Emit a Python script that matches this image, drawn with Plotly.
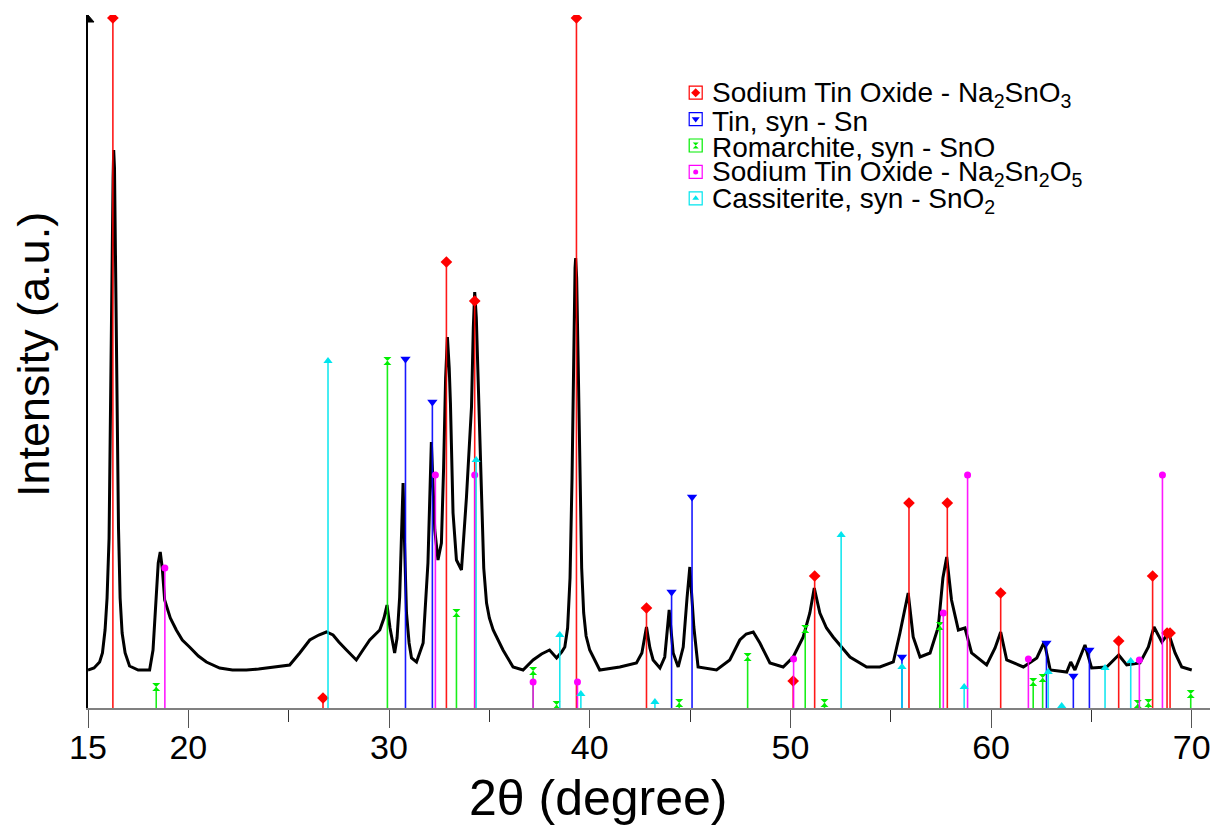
import plotly.graph_objects as go

# measured XRD pattern
two_theta = [15.0, 15.3, 15.58, 15.72, 15.85, 15.95, 16.05, 16.13, 16.2, 16.25, 16.28, 16.32, 16.38,
             16.45, 16.52, 16.6, 16.7, 16.85, 17.07,
             17.5, 18.07, 18.24, 18.4, 18.5, 18.6, 18.7, 18.82, 19.1, 19.4, 19.7, 20.06, 20.5, 20.9,
             21.56, 22.2, 22.89, 23.5, 23.89, 24.5, 25.05, 25.55, 26.05, 26.5, 26.88, 27.21, 27.5,
             27.88, 28.37, 28.7, 29.04, 29.54, 29.75, 29.9, 30.05, 30.28, 30.4, 30.53, 30.62, 30.7,
             30.78, 30.87, 31.0, 31.12, 31.37, 31.7, 31.94, 32.05, 32.11, 32.2, 32.28, 32.44, 32.61,
             32.72, 32.82, 32.91, 33.0, 33.06, 33.19, 33.36, 33.61, 33.86, 34.0, 34.11, 34.2, 34.27,
             34.35, 34.45, 34.52, 34.62, 34.72, 34.86, 35.0, 35.19, 35.68, 36.18, 36.68, 37.18, 37.6,
             38.0, 38.35, 38.6, 38.76, 38.9, 39.02, 39.12, 39.2, 39.27, 39.3, 39.35, 39.43, 39.52,
             39.6, 39.7, 39.82, 40.0, 40.5, 41.5, 42.33, 42.6, 42.83, 43.0, 43.16, 43.5, 43.74,
             43.96, 44.16, 44.41, 44.66, 44.85, 44.99, 45.19, 45.4, 46.32, 46.98, 47.48, 47.8, 48.15,
             48.48, 48.98, 49.64, 50.14, 50.64, 50.97, 51.19, 51.47, 51.8, 52.13, 52.97, 53.8, 54.46,
             55.13, 55.46, 55.87, 56.12, 56.46, 56.96, 57.37, 57.6, 57.79, 58.03, 58.37, 58.7, 59.03,
             59.78, 60.2, 60.48, 60.78, 61.61, 62.28, 62.65, 62.95, 63.77, 63.97, 64.18, 64.68, 65.01,
             65.76, 66.36, 66.76, 67.42, 67.84, 68.12, 68.51, 68.84, 69.17, 69.5, 70.0]
intensity = [38, 40, 46, 55, 78, 110, 170, 290, 440, 530, 558, 540, 440,
             300, 180, 110, 75, 55, 42,
             38, 38, 58, 108, 145, 156, 140, 108, 90, 78, 68, 61, 52, 46,
             40, 38, 38, 39, 40, 41, 43, 55, 68, 73, 76, 73, 66,
             58, 48, 58, 68, 78, 90, 103, 80, 55, 70, 111, 180, 225,
             160, 95, 65, 50, 46, 65, 145, 230, 266, 220, 178, 148, 165,
             240, 330, 371, 340, 305, 195, 148, 138, 211, 260, 301, 380, 416,
             390, 320, 278, 190, 140, 105, 90, 78, 58, 41, 38, 48, 54,
             58, 50, 56, 61, 80, 130, 230, 360, 440, 450, 430, 340, 220,
             140, 95, 72, 58, 38, 41, 45, 55, 81, 60, 48, 40, 51,
             98, 55, 41, 61, 110, 141, 81, 41, 38, 48, 68, 74, 76,
             65, 45, 41, 51, 71, 95, 120, 95, 80, 71, 51, 41, 41,
             46, 75, 115, 71, 51, 55, 81, 130, 151, 108, 78, 80, 55,
             43, 60, 76, 48, 41, 50, 66, 38, 36, 46, 38, 63, 40,
             41, 53, 43, 45, 61, 81, 66, 75, 55, 41, 38]

# reference patterns (peak position, relative intensity)
na2sno3_pos = [16.24, 26.71, 32.86, 34.27, 39.34, 42.83, 50.14, 51.21, 55.91, 57.82, 60.48, 66.36, 68.05, 68.77, 68.92]
na2sno3_int = [690, 10, 446, 407, 690, 100, 27, 132, 205, 205, 115, 67, 132, 75, 75]

sn_pos = [30.82, 32.16, 44.08, 45.1, 55.56, 62.76, 64.1, 64.9]
sn_int = [349, 306, 116, 211, 51, 65, 32, 58]

sno_pos = [18.4, 29.92, 33.36, 37.18, 38.35, 44.46, 47.87, 50.74, 51.7, 57.45, 62.1, 62.57, 67.31, 67.84, 69.95]
sno_int = [21, 347, 95, 37, 3, 5, 51, 79, 5, 82, 26, 30, 4, 5, 14]

na2sn2o5_pos = [18.83, 32.31, 34.27, 37.18, 39.39, 50.16, 57.62, 58.83, 61.86, 67.39, 68.54]
na2sn2o5_int = [140, 233, 233, 26, 26, 49, 95, 233, 49, 48, 233]

sno2_pos = [26.96, 34.34, 38.51, 39.56, 43.25, 52.53, 55.56, 58.66, 62.85, 63.52, 65.68, 66.96]
sno2_int = [347, 248, 73, 14, 6, 173, 41, 21, 36, 2, 40, 47]

phases = [
    ("Sodium Tin Oxide - Na<sub>2</sub>SnO<sub>3</sub>", na2sno3_pos, na2sno3_int, "#ff0000", "diamond", 9),
    ("Tin, syn - Sn", sn_pos, sn_int, "#0000ff", "triangle-down", 9),
    ("Romarchite, syn - SnO", sno_pos, sno_int, "#00ee00", "hourglass", 8),
    ("Sodium Tin Oxide - Na<sub>2</sub>Sn<sub>2</sub>O<sub>5</sub>", na2sn2o5_pos, na2sn2o5_int, "#ff00ff", "circle", 7),
    ("Cassiterite, syn - SnO<sub>2</sub>", sno2_pos, sno2_int, "#00e5ee", "triangle-up", 8),
]

FONT = "Liberation Sans, Arial, sans-serif"
# the page body adds an 8px offset; the figure is sized so the plot lands where the reference has it
OFF = 8
W, H = 1218 - OFF, 825 - OFF
X0, X1, Y0, Y1 = 88, 1210, 15, 708          # plot area in window pixels
L, R, T, B = X0 - OFF, 1218 - X1, Y0 - OFF, 825 - Y1
PW, PH = X1 - X0, Y1 - Y0


def px_x(px):
    return (px - X0) / PW


def px_y(py):
    return (Y1 - py) / PH


fig = go.Figure()

fig.add_trace(go.Scatter(x=two_theta, y=intensity, mode="lines",
                         line=dict(color="black", width=3), showlegend=False))

for name, pos, hgt, col, sym, size in phases:
    xs, ys = [], []
    for p, h in zip(pos, hgt):
        xs += [p, p, None]
        ys += [0, h, None]
    fig.add_trace(go.Scatter(x=xs, y=ys, mode="lines", line=dict(color=col, width=1.6),
                             opacity=0.9, showlegend=False))
    fig.add_trace(go.Scatter(x=pos, y=hgt, mode="markers", showlegend=False,
                             marker=dict(color=col, symbol=sym, size=size, line=dict(width=0))))

# hand-built legend (boxed symbols)
leg_x = px_x(695.7)
row0, row_step = 92.7, 26.4
for i, (name, pos, hgt, col, sym, size) in enumerate(phases):
    cy = row0 + i * row_step
    fig.add_shape(type="rect", xref="paper", yref="paper", layer="below",
                  x0=px_x(689.2), x1=px_x(702.2), y0=px_y(cy + 6.5), y1=px_y(cy - 6.5),
                  line=dict(color=col, width=1.2), fillcolor="white")
    fig.add_trace(go.Scatter(x=[leg_x], y=[px_y(cy)], xaxis="x2", yaxis="y2", mode="markers",
                             showlegend=False,
                             marker=dict(color=col, symbol=sym, size=size - 2, line=dict(width=0))))
    fig.add_annotation(xref="paper", yref="paper", x=px_x(710), y=px_y(cy + 2),
                       xanchor="left", yanchor="middle", showarrow=False, text=name,
                       font=dict(family=FONT, size=28, color="black"))

# y axis arrow flag
fig.add_shape(type="path", xref="paper", yref="paper",
              path=f"M {px_x(88)} {px_y(15)} L {px_x(94)} {px_y(22)} L {px_x(88)} {px_y(22)} Z",
              fillcolor="black", line=dict(color="black", width=1))

fig.add_annotation(xref="paper", yref="paper", x=px_x(33), y=px_y(355), text="Intensity (a.u.)",
                   textangle=-90, showarrow=False, xanchor="center", yanchor="middle",
                   font=dict(family=FONT, size=45, color="black"))
fig.add_annotation(xref="paper", yref="paper", x=px_x(598), y=px_y(798), text="2θ (degree)",
                   showarrow=False, xanchor="center", yanchor="middle",
                   font=dict(family=FONT, size=50, color="black"))

fig.update_layout(
    width=W, height=H,
    margin=dict(l=L, r=R, t=T, b=B),
    paper_bgcolor="white", plot_bgcolor="rgba(0,0,0,0)",
    showlegend=False,
    xaxis=dict(range=[15, 70.91], showgrid=False, zeroline=False,
               showline=True, linecolor="#808080", linewidth=2,
               tickvals=[15, 20, 30, 40, 50, 60, 70], ticks="outside", ticklen=18,
               tickcolor="#555", tickwidth=1, ticklabelstandoff=-10,
               minor=dict(tickvals=[25, 35, 45, 55, 65], ticks="outside", ticklen=12,
                          tickcolor="#333", tickwidth=1),
               tickfont=dict(family=FONT, size=34, color="black")),
    yaxis=dict(range=[0, PH], showgrid=False, zeroline=False, showticklabels=False,
               showline=True, linecolor="black", linewidth=2, ticks=""),
    xaxis2=dict(domain=[0, 1], range=[0, 1], visible=False, anchor="y2"),
    yaxis2=dict(domain=[0, 1], range=[0, 1], visible=False, anchor="x2"),
)

fig.write_html("out.html")
